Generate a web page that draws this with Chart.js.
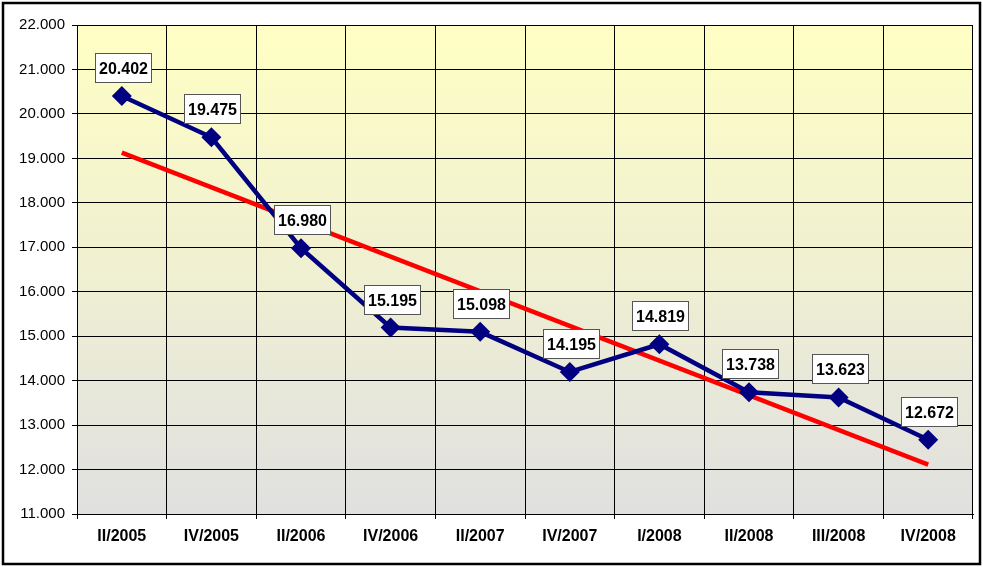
<!DOCTYPE html>
<html>
<head>
<meta charset="utf-8">
<script src="https://cdn.jsdelivr.net/npm/chart.js@4/dist/chart.umd.min.js"></script>
<style>
  html, body { margin: 0; padding: 0; background: #fff; }
  #wrap { width: 983px; height: 567px; position: relative; }
</style>
</head>
<body>
<div id="wrap"><canvas id="c" width="983" height="567"></canvas></div>
<script>
// DATA
const quarters = ["II/2005", "IV/2005", "II/2006", "IV/2006", "II/2007", "IV/2007", "I/2008", "II/2008", "III/2008", "IV/2008"];
const values = [20402, 19475, 16980, 15195, 15098, 14195, 14819, 13738, 13623, 12672];
// trend line: only its two ends, drawn straight
const trend = [19130, null, null, null, null, null, null, null, null, 12110];
const yMin = 11000, yMax = 22000, yStep = 1000;

function fmt(v) {
  // 20402 -> "20.402", 22000 -> "22.000"
  const s = String(Math.round(v));
  return s.slice(0, s.length - 3) + "." + s.slice(-3);
}

const FONT = "'Liberation Sans', Arial, sans-serif";

// gradient behind plot area + outer frame
const bgPlugin = {
  id: "bg",
  beforeDraw(chart) {
    const { ctx, chartArea: a } = chart;
    const g = ctx.createLinearGradient(0, a.top, 0, a.bottom);
    g.addColorStop(0, "#FFFFC4");
    g.addColorStop(1, "#E0E0E0");
    ctx.save();
    ctx.fillStyle = g;
    ctx.fillRect(a.left, a.top, a.right - a.left, a.bottom - a.top);
    ctx.restore();
  },
  afterDraw(chart) {
    const ctx = chart.ctx;
    ctx.save();
    ctx.strokeStyle = "#000";
    ctx.lineWidth = 2.5;
    ctx.strokeRect(3, 3, 977, 561);
    ctx.restore();
  }
};

// white boxes with the values
const labelPlugin = {
  id: "boxes",
  afterDatasetsDraw(chart) {
    const ctx = chart.ctx;
    const meta = chart.getDatasetMeta(0);
    ctx.save();
    ctx.font = "bold 16px " + FONT;
    ctx.textAlign = "center";
    ctx.textBaseline = "middle";
    meta.data.forEach((pt, i) => {
      const txt = fmt(values[i]);
      const w = Math.round(ctx.measureText(txt).width + 7);
      const h = 29;
      const cx = Math.round(pt.x + 1), cy = Math.round(pt.y - 28);
      const x0 = cx - Math.round(w / 2), y0 = cy - Math.round(h / 2);
      ctx.fillStyle = "#fff";
      ctx.fillRect(x0, y0, w, h);
      ctx.strokeStyle = "#555";
      ctx.lineWidth = 1;
      ctx.strokeRect(x0 + 0.5, y0 + 0.5, w, h);
      ctx.fillStyle = "#000";
      ctx.fillText(txt, cx + 0.5, cy + 1.5);
    });
    ctx.restore();
  }
};

new Chart(document.getElementById("c"), {
  type: "line",
  data: {
    labels: quarters,
    datasets: [
      {
        data: values,
        borderColor: "#000080",
        backgroundColor: "#000080",
        borderWidth: 4.5,
        pointStyle: "rectRot",
        pointRadius: 10,
        pointBorderWidth: 0,
        tension: 0,
        order: 0
      },
      {
        data: trend,
        spanGaps: true,
        borderColor: "#FF0000",
        borderWidth: 4.5,
        pointRadius: 0,
        tension: 0,
        order: 1
      }
    ]
  },
  options: {
    responsive: false,
    animation: false,
    layout: { padding: { top: 25, right: 10, left: 0, bottom: 0 } },
    plugins: { legend: { display: false }, tooltip: { enabled: false } },
    scales: {
      x: {
        offset: true,
        grid: { offset: true, color: "#000", lineWidth: 1, tickLength: 5, drawTicks: true },
        border: { color: "#000", width: 1 },
        ticks: { color: "#000", font: { family: FONT, size: 16, weight: "bold" }, padding: 8, maxRotation: 0, autoSkip: false },
        afterFit(s) { s.height = 53; }
      },
      y: {
        min: yMin,
        max: yMax,
        grid: { color: "#000", lineWidth: 1, tickLength: 5 },
        border: { color: "#000", width: 1 },
        ticks: { stepSize: yStep, color: "#000", font: { family: FONT, size: 15 }, padding: 7, callback: v => fmt(v) },
        afterFit(s) { s.width = 77; }
      }
    }
  },
  plugins: [bgPlugin, labelPlugin]
});
</script>
</body>
</html>
